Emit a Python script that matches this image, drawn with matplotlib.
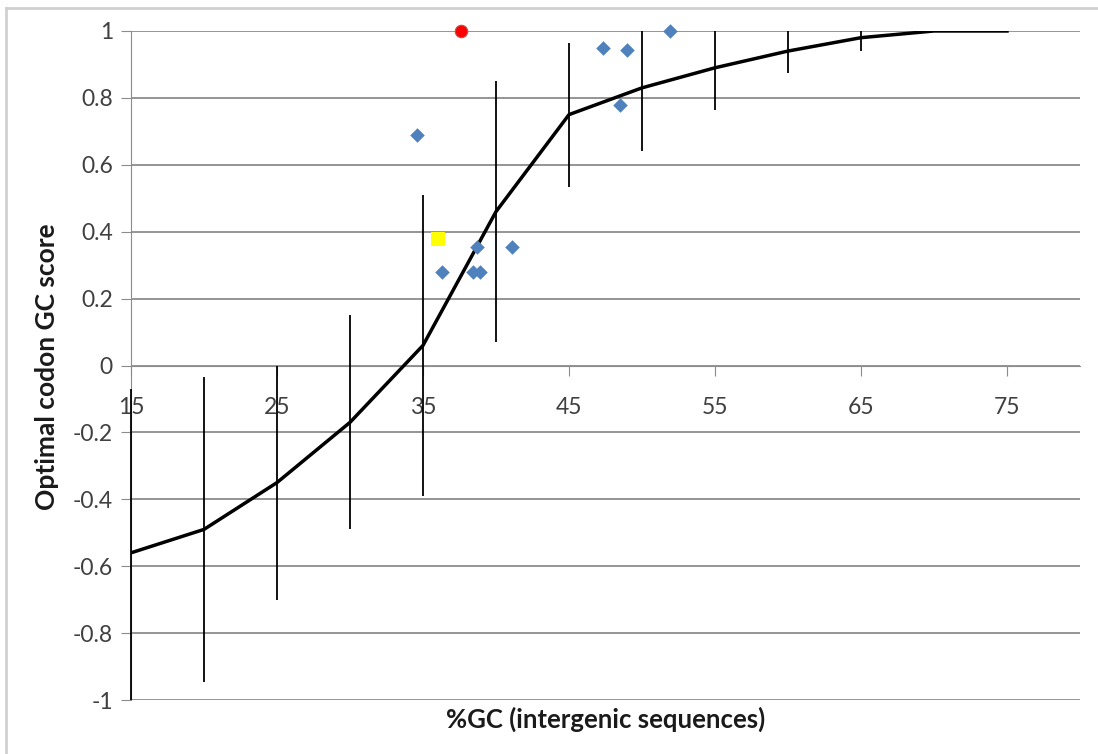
import numpy as np
import matplotlib.pyplot as plt
from matplotlib.lines import Line2D

# mean curve with error bars
gc_bins = [15, 20, 25, 30, 35, 40, 45, 50, 55, 60, 65, 70, 75]
score_mean = [-0.56, -0.49, -0.35, -0.17, 0.06, 0.46, 0.75, 0.83, 0.89, 0.94, 0.98, 1.0, 1.0]
score_err = [0.49, 0.455, 0.35, 0.32, 0.45, 0.39, 0.215, 0.19, 0.125, 0.065, 0.04, 0.0, 0.0]

# individual genomes
genome_gc = [34.6, 36.3, 38.4, 38.7, 38.9, 41.1, 47.3, 48.5, 49.0, 51.9]
genome_score = [0.69, 0.28, 0.28, 0.355, 0.28, 0.355, 0.948, 0.78, 0.942, 1.0]

yellow_gc = [36.0]
yellow_score = [0.377]
red_gc = [37.6]
red_score = [1.0]

plt.rcParams['font.family'] = ['Lato', 'DejaVu Sans']

fig = plt.figure(figsize=(10.98, 7.54), dpi=100)
ax = fig.add_axes([0.1193, 0.0716, 0.8643, 0.8873])

# gridlines
ax.set_yticks(np.arange(-1, 1.01, 0.2))
ax.yaxis.grid(True, color="#8c8c8c", lw=1.3)
ax.set_axisbelow(True)

# error bars, cut at the axis limits like the spreadsheet does
lo = np.clip(np.array(score_mean) - np.array(score_err), -1, 1)
hi = np.clip(np.array(score_mean) + np.array(score_err), -1, 1)
ax.vlines(gc_bins, lo, hi, color="black", lw=1.3, zorder=3, clip_on=False)
ax.plot(gc_bins, score_mean, color="black", lw=2.5, zorder=3)

ax.scatter(genome_gc, genome_score, marker="D", s=55, color="#4f81bd", zorder=4, clip_on=False, linewidths=0)
ax.scatter(yellow_gc, yellow_score, marker="s", s=90, color="#ffff00", zorder=4, linewidths=0)
ax.scatter(red_gc, red_score, marker="o", s=80, color="#ff0000", zorder=4, clip_on=False,
           edgecolors="#c0504d", linewidths=0.8)

ax.set_xlim(15, 80)
ax.set_ylim(-1, 1)
ax.set_xticks([15, 25, 35, 45, 55, 65, 75])
ax.set_yticklabels(["-1", "-0.8", "-0.6", "-0.4", "-0.2", "0", "0.2", "0.4", "0.6", "0.8", "1"])

ax.spines['bottom'].set_position(('data', 0))
ax.spines['bottom'].set_color("#8c8c8c")
ax.spines['left'].set_color("#8c8c8c")
ax.spines['top'].set_visible(False)
ax.spines['right'].set_visible(False)
ax.tick_params(axis='x', direction='out', length=7, color="#8c8c8c", pad=16, labelsize=16.5, labelcolor="#404040")
ax.tick_params(axis='y', direction='out', length=7, color="#8c8c8c", pad=6, labelsize=16.5, labelcolor="#404040")

fig.text(0.043, 0.514, "Optimal codon GC score", rotation=90, ha="center", va="center",
         fontsize=19, fontweight="bold", color="#1a1a1a")
fig.text(0.552, 0.046, "%GC (intergenic sequences)", ha="center", va="center",
         fontsize=18.5, fontweight="bold", color="#1a1a1a")

# outer chart frame
fig.add_artist(Line2D([0.0055, 0.0055], [0, 0.989], transform=fig.transFigure, color="#d0d0d0", lw=2))
fig.add_artist(Line2D([0.0055, 1.0], [0.989, 0.989], transform=fig.transFigure, color="#d0d0d0", lw=2))

fig.savefig("out.png", dpi=100, facecolor="white")
